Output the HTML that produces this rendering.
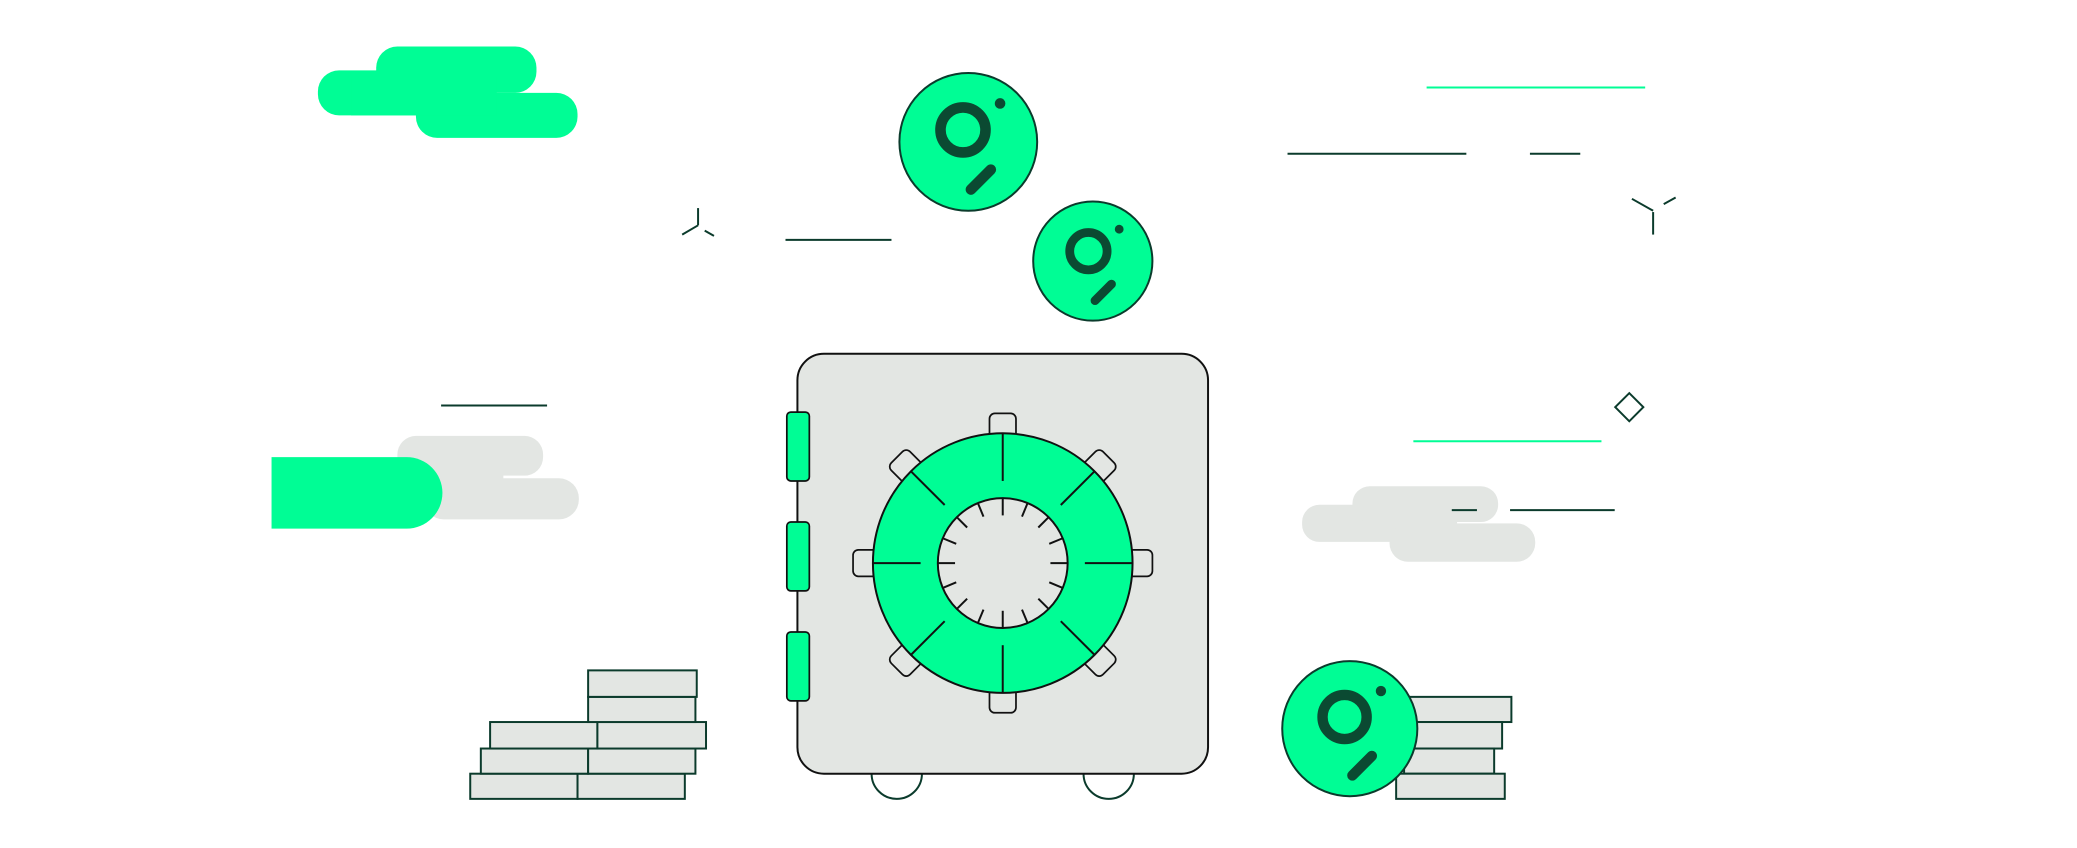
<!DOCTYPE html>
<html><head><meta charset="utf-8"><style>html,body{margin:0;padding:0;background:#fff}svg{display:block}</style></head>
<body>
<svg width="2077" height="848" viewBox="0 0 1568 640" xmlns="http://www.w3.org/2000/svg">
<defs>
<g id="sym">
<circle cx="-4" cy="-9" r="17" fill="none" stroke="#0b4a32" stroke-width="8"/>
<circle cx="24" cy="-29" r="4" fill="#0b4a32"/>
<line x1="2" y1="36" x2="17" y2="21" stroke="#0b4a32" stroke-width="8" stroke-linecap="round"/>
</g>
</defs>
<g fill="#00fd95">
<rect x="240" y="53" width="90" height="34" rx="16"/>
<rect x="284" y="35" width="121" height="35" rx="16"/>
<rect x="314" y="70" width="122" height="34" rx="16"/>
<rect x="265" y="58" width="110" height="29"/>
</g>
<g fill="#e3e6e3">
<rect x="300" y="329" width="110" height="30" rx="14"/>
<rect x="320" y="361" width="117" height="31" rx="15"/>
<rect x="320" y="345" width="60" height="30"/>
<rect x="983" y="381" width="117" height="28" rx="13"/>
<rect x="1021" y="367" width="110" height="27" rx="13"/>
<rect x="1049" y="395" width="110" height="29" rx="14"/>
</g>
<path d="M205 345 H307 A27 27 0 0 1 307 399 H205 Z" fill="#00fd95"/>
<g stroke="#00fd95" stroke-width="1.5">
<line x1="1077" y1="66" x2="1242" y2="66"/>
<line x1="1067" y1="333" x2="1209" y2="333"/>
</g>
<g stroke="#0b3b2c" stroke-width="1.5" fill="none">
<line x1="972" y1="116" x2="1107" y2="116"/>
<line x1="1155" y1="116" x2="1193" y2="116"/>
<line x1="593" y1="181" x2="673" y2="181"/>
<line x1="333" y1="306" x2="413" y2="306"/>
<line x1="1096" y1="385" x2="1115" y2="385"/>
<line x1="1140" y1="385" x2="1219" y2="385"/>
<line x1="527" y1="157" x2="527" y2="170"/>
<line x1="527" y1="170" x2="515" y2="177"/>
<line x1="532" y1="174" x2="539" y2="178"/>
<line x1="1248" y1="160" x2="1248" y2="177"/>
<line x1="1232" y1="150" x2="1248" y2="159"/>
<line x1="1256" y1="154" x2="1265" y2="149"/>
<rect x="1222" y="300" width="15" height="15" transform="rotate(45 1230 308)"/>
</g>
<g fill="#e3e6e3" stroke="#0b3b2c" stroke-width="1.5">
<rect x="355" y="584" width="81" height="19"/><rect x="436" y="584" width="81" height="19"/>
<rect x="363" y="565" width="81" height="19"/><rect x="444" y="565" width="81" height="19"/>
<rect x="370" y="545" width="81" height="20"/><rect x="451" y="545" width="82" height="20"/>
<rect x="444" y="526" width="81" height="19"/>
<rect x="444" y="506" width="82" height="20"/>
<rect x="1060" y="526" width="81" height="19"/>
<rect x="1055" y="545" width="79" height="20"/>
<rect x="1060" y="565" width="68" height="19"/>
<rect x="1054" y="584" width="82" height="19"/>
</g>
<g stroke="#0b3b2c" stroke-width="1.5">
<circle cx="677" cy="584" r="19" fill="#fff"/>
<circle cx="837" cy="584" r="19" fill="#fff"/>
</g>
<rect x="602" y="267" width="310" height="317" rx="20" fill="#e3e6e3" stroke="#111" stroke-width="1.5"/>
<g fill="#00fd95" stroke="#111" stroke-width="1.3">
<rect x="594" y="311" width="17" height="52" rx="3"/>
<rect x="594" y="394" width="17" height="52" rx="3"/>
<rect x="594" y="477" width="17" height="52" rx="3"/>
</g>
<g transform="translate(757 425)">
<g fill="#e3e6e3" stroke="#111" stroke-width="1.3">
<rect x="-10" y="-113" width="20" height="30" rx="4"/>
<rect x="-10" y="-113" width="20" height="30" rx="4" transform="rotate(45)"/>
<rect x="-10" y="-113" width="20" height="30" rx="4" transform="rotate(90)"/>
<rect x="-10" y="-113" width="20" height="30" rx="4" transform="rotate(135)"/>
<rect x="-10" y="-113" width="20" height="30" rx="4" transform="rotate(180)"/>
<rect x="-10" y="-113" width="20" height="30" rx="4" transform="rotate(225)"/>
<rect x="-10" y="-113" width="20" height="30" rx="4" transform="rotate(270)"/>
<rect x="-10" y="-113" width="20" height="30" rx="4" transform="rotate(315)"/>
</g>
<circle r="98" fill="#00fd95" stroke="#111" stroke-width="1.5"/>
<circle r="49" fill="#e3e6e3" stroke="#111" stroke-width="1.5"/>
<g stroke="#111" stroke-width="1.5">
<line x1="0" y1="-62" x2="0" y2="-98"/>
<line x1="0" y1="-62" x2="0" y2="-98" transform="rotate(45)"/>
<line x1="0" y1="-62" x2="0" y2="-98" transform="rotate(90)"/>
<line x1="0" y1="-62" x2="0" y2="-98" transform="rotate(135)"/>
<line x1="0" y1="-62" x2="0" y2="-98" transform="rotate(180)"/>
<line x1="0" y1="-62" x2="0" y2="-98" transform="rotate(225)"/>
<line x1="0" y1="-62" x2="0" y2="-98" transform="rotate(270)"/>
<line x1="0" y1="-62" x2="0" y2="-98" transform="rotate(315)"/>
<line x1="0" y1="-36" x2="0" y2="-49"/>
<line x1="0" y1="-38" x2="0" y2="-49" transform="rotate(22.5)"/>
<line x1="0" y1="-38" x2="0" y2="-49" transform="rotate(45)"/>
<line x1="0" y1="-38" x2="0" y2="-49" transform="rotate(67.5)"/>
<line x1="0" y1="-36" x2="0" y2="-49" transform="rotate(90)"/>
<line x1="0" y1="-38" x2="0" y2="-49" transform="rotate(112.5)"/>
<line x1="0" y1="-38" x2="0" y2="-49" transform="rotate(135)"/>
<line x1="0" y1="-38" x2="0" y2="-49" transform="rotate(157.5)"/>
<line x1="0" y1="-36" x2="0" y2="-49" transform="rotate(180)"/>
<line x1="0" y1="-38" x2="0" y2="-49" transform="rotate(202.5)"/>
<line x1="0" y1="-38" x2="0" y2="-49" transform="rotate(225)"/>
<line x1="0" y1="-38" x2="0" y2="-49" transform="rotate(247.5)"/>
<line x1="0" y1="-36" x2="0" y2="-49" transform="rotate(270)"/>
<line x1="0" y1="-38" x2="0" y2="-49" transform="rotate(292.5)"/>
<line x1="0" y1="-38" x2="0" y2="-49" transform="rotate(315)"/>
<line x1="0" y1="-38" x2="0" y2="-49" transform="rotate(337.5)"/>
</g>
</g>
<g stroke="#0b3b2c" stroke-width="1.5" fill="#00fd95">
<circle cx="731" cy="107" r="52"/>
<circle cx="825" cy="197" r="45"/>
<circle cx="1019" cy="550" r="51"/>
</g>
<use href="#sym" transform="translate(731 107)"/>
<use href="#sym" transform="translate(825 197) scale(0.83)"/>
<use href="#sym" transform="translate(1019 550) scale(0.98)"/>
</svg>
</body></html>
